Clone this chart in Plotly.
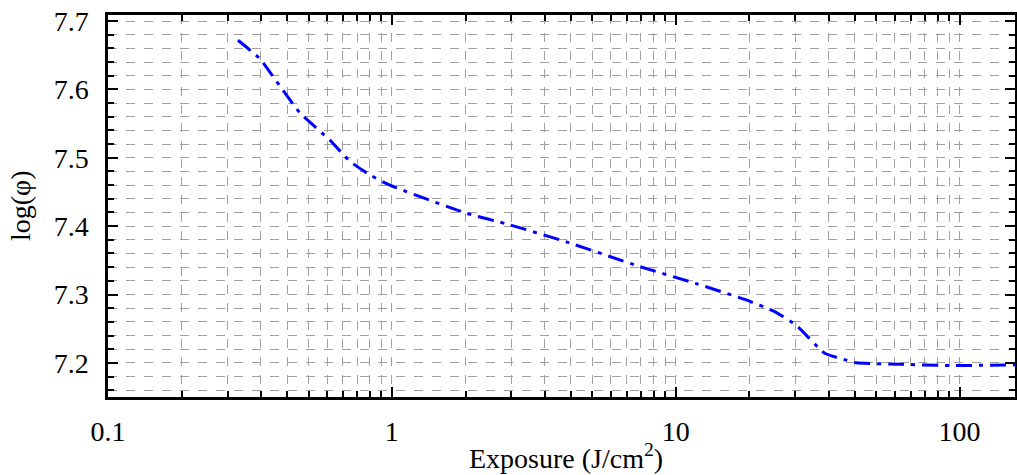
import plotly.graph_objects as go
import numpy as np

# data
exposure = [0.287, 0.343, 0.40, 0.474, 0.605, 0.711, 0.837, 0.984, 1.83, 2.60, 4.12,
            7.46, 11.8, 17.7, 22.3, 26.6, 33.5, 39.9, 43.3, 61.5, 92.2, 157]
log_phi = [7.672, 7.645, 7.607, 7.566, 7.526, 7.495, 7.475, 7.460, 7.419, 7.402, 7.377,
           7.341, 7.316, 7.292, 7.275, 7.255, 7.214, 7.204, 7.200, 7.198, 7.196, 7.197]

x_major = [0.1, 1, 10, 100]
y_major = [7.2, 7.3, 7.4, 7.5, 7.6, 7.7]

# minor ticks are evenly spaced inside each decade (11 steps)
x_minor = []
for d in x_major:
    for k in range(1, 11):
        v = d + k * 9 * d / 11
        if v < 157:
            x_minor.append(v)

font_family = "Liberation Serif"
grid_col = "#a0a0a0"

fig = go.Figure()

fig.add_trace(go.Scatter(
    x=exposure, y=log_phi,
    mode="lines",
    line=dict(color="#0000ff", width=3, dash="16px,7px,4px,7px", shape="spline", smoothing=0.5),
    showlegend=False
))

fig.update_layout(
    width=1017, height=475,
    margin=dict(l=108, r=2, t=15, b=78),
    plot_bgcolor="white",
    paper_bgcolor="white",
    font=dict(family=font_family, size=28, color="black"),
    xaxis=dict(
        type="log",
        range=[-1, np.log10(156.8)],
        tickmode="array",
        tickvals=x_major,
        ticktext=["0.1", "1", "10", "100"],
        ticks="inside", ticklen=10, tickwidth=2, tickcolor="black",
        showline=True, linecolor="black", linewidth=2.5, mirror="ticks",
        showgrid=True, gridcolor=grid_col, griddash="dash", gridwidth=1,
        minor=dict(tickmode="array", tickvals=x_minor, ticks="inside", ticklen=6,
                   tickwidth=2, tickcolor="black",
                   showgrid=True, gridcolor=grid_col, griddash="dash", gridwidth=1),
        ticklabelstandoff=8,
        automargin=False,
        zeroline=False,
    ),
    yaxis=dict(
        range=[7.15, 7.709],
        tickmode="array",
        tickvals=y_major,
        ticktext=[f"{v:.1f}" for v in y_major],
        ticks="inside", ticklen=10, tickwidth=2, tickcolor="black",
        showline=True, linecolor="black", linewidth=2.5, mirror="ticks",
        showgrid=True, gridcolor=grid_col, griddash="dash", gridwidth=1,
        minor=dict(dtick=0.02, tick0=7.2, ticks="inside", ticklen=6,
                   tickwidth=2, tickcolor="black",
                   showgrid=True, gridcolor=grid_col, griddash="dash", gridwidth=1),
        ticklabelstandoff=11,
        automargin=False,
        zeroline=False,
    ),
    annotations=[
        dict(text="Exposure (J/cm<sup>2</sup>)", xref="paper", yref="paper",
             x=0.505, y=-0.157, xanchor="center", yanchor="middle",
             showarrow=False, font=dict(size=28)),
        dict(text="log(φ)", xref="paper", yref="paper",
             x=-0.097, y=0.5, xanchor="center", yanchor="middle", textangle=-90,
             showarrow=False, font=dict(size=28)),
    ],
)

# page has a default body margin; remove it so the figure sits at the window corner
fig.write_html("out.html", config={"displayModeBar": False},
               post_script="document.body.style.margin='0';document.body.style.overflow='hidden';")
